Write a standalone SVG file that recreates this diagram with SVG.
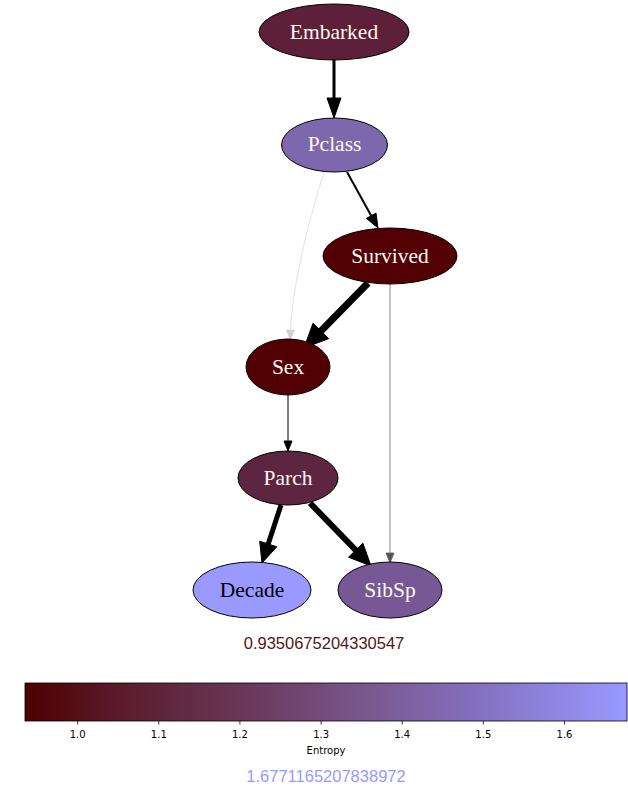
<svg xmlns="http://www.w3.org/2000/svg" width="628" height="787" viewBox="0 0 628 787">
<style>
.node ellipse{stroke:#000;stroke-width:1}
.node text{font-family:"Liberation Serif",serif;font-size:21.5px;text-anchor:middle;fill:#fff8f0}
.e{fill:none}
.h{fill:#000;stroke:#000}
.tick{font-family:"DejaVu Sans",sans-serif;font-size:10px;text-anchor:middle;fill:#000}
</style>
<defs>
<linearGradient id="cm" x1="0" y1="0" x2="1" y2="0">
<stop offset="0" stop-color="#4d0000"/>
<stop offset="0.15" stop-color="#5a1a2a"/>
<stop offset="0.35" stop-color="#683656"/>
<stop offset="0.55" stop-color="#78558a"/>
<stop offset="0.75" stop-color="#8370bf"/>
<stop offset="1" stop-color="#9999ff"/>
</linearGradient>
</defs>
<rect width="628" height="787" fill="#fff"/>
<g id="edges">
<line class="e" x1="334" y1="60" x2="334" y2="100" stroke="#000" stroke-width="3"/>
<polygon class="h" points="327,98 341,98 334,118"/>
<path class="e" d="M324,172 C306,230 292,290 290.5,330" stroke="#d4d4d4" stroke-width="0.7"/>
<polygon points="286.5,330 294.5,330 290,340" fill="#d4d4d4" stroke="#c8c8c8" stroke-width="0.5"/>
<line class="e" x1="347" y1="172" x2="371.2" y2="215.8" stroke="#000" stroke-width="2"/>
<polygon class="h" points="366.4,218.4 376,213.1 378,228"/>
<line class="e" x1="368" y1="283" x2="321" y2="331" stroke="#000" stroke-width="7"/>
<polygon class="h" points="313,323.2 328.7,338.6 304,348"/>
<line class="e" x1="390" y1="284" x2="390" y2="553" stroke="#555" stroke-width="0.7"/>
<polygon points="386,553 394,553 390,563" fill="#555" stroke="#555" stroke-width="0.7"/>
<line class="e" x1="288" y1="395" x2="288" y2="441" stroke="#000" stroke-width="1"/>
<polygon class="h" points="284,441 292,441 288,451"/>
<line class="e" x1="281" y1="505" x2="268.2" y2="544" stroke="#000" stroke-width="5"/>
<polygon class="h" points="259.7,541.2 276.8,546.8 262,563"/>
<line class="e" x1="310" y1="503" x2="355.7" y2="550.2" stroke="#000" stroke-width="6"/>
<polygon class="h" points="348.5,557.2 362.9,543.2 371,566"/>
</g>
<g id="Embarked" class="node"><ellipse cx="334" cy="32" rx="75" ry="28" fill="#5e1f38"/><text x="334" y="39">Embarked</text></g>
<g id="Pclass" class="node"><ellipse cx="334.5" cy="145" rx="53" ry="27" fill="#7e68ad"/><text x="334.5" y="151">Pclass</text></g>
<g id="Survived" class="node"><ellipse cx="390" cy="256" rx="67" ry="28" fill="#520004"/><text x="390" y="263">Survived</text></g>
<g id="Sex" class="node"><ellipse cx="288" cy="367" rx="42" ry="28" fill="#520004"/><text x="288" y="374">Sex</text></g>
<g id="Parch" class="node"><ellipse cx="288" cy="478" rx="50" ry="27" fill="#5e2540"/><text x="288" y="485">Parch</text></g>
<g id="Decade" class="node"><ellipse cx="252" cy="590" rx="59" ry="28" fill="#9999ff"/><text x="252" y="597" style="fill:#000">Decade</text></g>
<g id="SibSp" class="node"><ellipse cx="390" cy="590" rx="52" ry="28" fill="#775895"/><text x="390" y="597">SibSp</text></g>
<g id="colorbar">
<text x="324" y="649" font-family="'Liberation Sans',sans-serif" font-size="16.5" text-anchor="middle" fill="#5a1414">0.9350675204330547</text>
<rect x="25" y="683" width="602" height="38" fill="url(#cm)" stroke="#000" stroke-width="0.8"/>
<g stroke="#000" stroke-width="0.8">
<line x1="77.7" y1="721" x2="77.7" y2="724.5"/>
<line x1="158.8" y1="721" x2="158.8" y2="724.5"/>
<line x1="239.9" y1="721" x2="239.9" y2="724.5"/>
<line x1="321.1" y1="721" x2="321.1" y2="724.5"/>
<line x1="402.2" y1="721" x2="402.2" y2="724.5"/>
<line x1="483.3" y1="721" x2="483.3" y2="724.5"/>
<line x1="564.5" y1="721" x2="564.5" y2="724.5"/>
</g>
<text class="tick" x="77.7" y="738">1.0</text>
<text class="tick" x="158.8" y="738">1.1</text>
<text class="tick" x="239.9" y="738">1.2</text>
<text class="tick" x="321.1" y="738">1.3</text>
<text class="tick" x="402.2" y="738">1.4</text>
<text class="tick" x="483.3" y="738">1.5</text>
<text class="tick" x="564.5" y="738">1.6</text>
<text class="tick" x="326" y="754">Entropy</text>
<text x="326" y="782" font-family="'Liberation Sans',sans-serif" font-size="16.5" text-anchor="middle" fill="#9999ff">1.6771165207838972</text>
</g>
</svg>
